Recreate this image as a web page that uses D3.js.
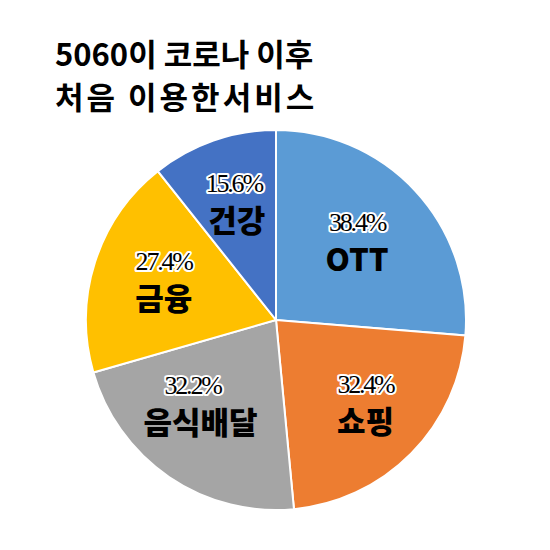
<!DOCTYPE html>
<html><head><meta charset="utf-8">
<script src="https://cdn.jsdelivr.net/npm/d3@7"></script>
<style>body{margin:0;background:#fff}</style>
</head><body>
<svg id="c" width="550" height="550"></svg>
<script>
const categories = ["OTT", "쇼핑", "음식배달", "금융", "건강"];
const values = [38.4, 32.4, 32.2, 27.4, 15.6];
const colors = ["#5B9BD5", "#ED7D31", "#A5A5A5", "#FFC000", "#4472C4"];
const titleLines = ["5060이 코로나 이후", "처음 이용한서비스"];

const svg = d3.select("#c");
const cx = 276, cy = 320, r = 190;
const g = svg.append("g").attr("transform", `translate(${cx},${cy})`);
const data = categories.map((c, i) => ({c, v: values[i], col: colors[i]}));
const pie = d3.pie().value(d => d.v).sort(null);
const arc = d3.arc().innerRadius(0).outerRadius(r);
const arcs = pie(data);
g.selectAll("path").data(arcs).join("path")
  .attr("d", arc).attr("fill", d => d.data.col)
  .attr("stroke", "#fff").attr("stroke-width", 2);

// label placement (layout): radius factor and angle offset (deg) per slice
const labelR = [0.60, 0.64, 0.59, 0.63, 0.66];
const labelDA = [-2, -2, 8, 2.5, 1];
const pctDX = [0, 0, -8, 0, -3];
const lab = g.selectAll("g.lab").data(arcs).join("g").attr("class", "lab")
  .attr("transform", (d, i) => {
    const a = (d.startAngle + d.endAngle) / 2 + labelDA[i] * Math.PI / 180;
    const rr = r * labelR[i];
    return `translate(${Math.sin(a) * rr},${-Math.cos(a) * rr})`;
  });
lab.append("text").text(d => d.data.v.toFixed(1) + "%")
  .attr("text-anchor", "middle").attr("y", -9)
  .attr("x", (d, i) => pctDX[i])
  .attr("font-family", "Liberation Serif").attr("font-size", 26)
  .attr("letter-spacing", -2.2)
  .attr("stroke", "#fff").attr("stroke-width", 4).attr("paint-order", "stroke")
  .attr("stroke-linejoin", "round").attr("fill", "#000");
lab.append("text").text(d => d.data.c)
  .attr("text-anchor", "middle").attr("y", 31)
  .attr("font-family", "Noto Sans CJK KR").attr("font-weight", 900)
  .attr("font-size", 31).attr("fill", "#000");

const tSpacing = [0, 3];
svg.selectAll("text.title").data(titleLines).join("text").attr("class", "title")
  .attr("x", 55).attr("y", (d, i) => 66 + i * 43)
  .attr("font-family", "Noto Sans CJK KR").attr("font-weight", 700)
  .attr("font-size", 31).attr("fill", "#000")
  .attr("letter-spacing", (d, i) => tSpacing[i])
  .text(d => d);
</script>
</body></html>
